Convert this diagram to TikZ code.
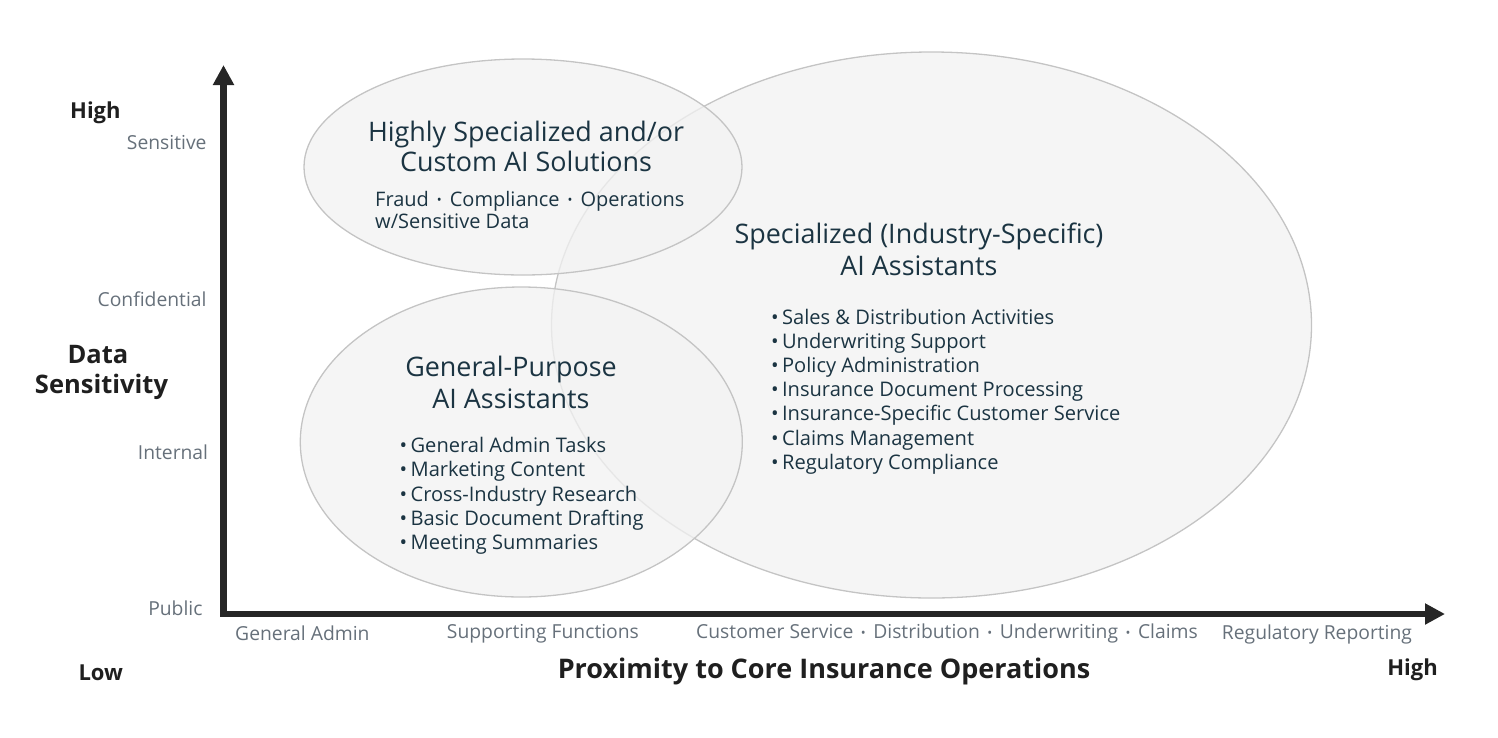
\documentclass[tikz,border=0pt]{standalone}
\usepackage{fontspec}
\setmainfont{Open Sans}
\usetikzlibrary{arrows.meta}
\definecolor{navy}{HTML}{1B3442}
\definecolor{lab}{HTML}{66707A}
\definecolor{axisc}{HTML}{262626}
\definecolor{ellfill}{HTML}{F2F2F2}
\definecolor{elledge}{HTML}{C4C4C4}
\newcommand{\sepdot}[1]{\hspace{#1}{\fontsize{13}{13}\selectfont\raisebox{1.5pt}{•}}\hspace{#1}}
\begin{document}
\begin{tikzpicture}[x=1pt,y=-1pt,
  ell/.style={draw=elledge, line width=1.3pt, fill=ellfill, fill opacity=0.75},
  ttl/.style={text=navy, font=\fontsize{26.9}{31.5}\selectfont, anchor=base, inner sep=0pt},
  lst/.style={text=navy, font=\fontsize{20.1}{24.2}\selectfont, anchor=base west, inner sep=0pt},
  sub/.style={text=navy, font=\fontsize{20}{22.5}\selectfont, anchor=base west, inner sep=0pt},
  ylab/.style={text=lab, font=\fontsize{19.3}{22}\selectfont, anchor=base east, inner sep=0pt},
  xlab/.style={text=lab, font=\fontsize{19.3}{22}\selectfont, anchor=base west, inner sep=0pt},
  endlab/.style={text=black!88, font=\bfseries\fontsize{22}{26}\selectfont, inner sep=0pt},
  axlab/.style={text=black!88, font=\bfseries\fontsize{25.5}{30}\selectfont, anchor=base, inner sep=0pt},
  axisline/.style={line width=6.5pt, draw=axisc, line join=miter}
]
\useasboundingbox (0,0) rectangle (1498,737);

% ellipses
\path[ell] (931.5,325) ellipse [x radius=380, y radius=273];
\path[ell] (523,167) ellipse [x radius=219, y radius=108];
\path[ell] (521.3,442) ellipse [x radius=221, y radius=155];

% axes
\coordinate (O) at (223.5,614);
\coordinate (ytip) at (223.5,65);
\coordinate (xtip) at (1445,614);
\draw[axisline, {Triangle[length=20pt,width=20pt]}-{Triangle[length=20pt,width=20pt]}] (ytip) -- (O) -- (xtip);

% top ellipse texts
\node[ttl] (hs1) at (526,141) {Highly Specialized and/or};
\node[ttl] (hs2) at (526,171.7) {Custom AI Solutions};
\node[sub] (hs3) at (375,206) {Fraud\sepdot{8pt}Compliance\sepdot{8pt}Operations};
\node[sub] (hs4) at (375,228.3) {w/Sensitive Data};

% big ellipse texts
\node[ttl] (sp1) at (919,243.3) {Specialized (Industry-Specific)};
\node[ttl] (sp2) at (919,275) {AI Assistants};
\node[lst] (sl1) at (771,324.0) {•\,Sales \& Distribution Activities};
\node[lst] (sl2) at (771,348.2) {•\,Underwriting Support};
\node[lst] (sl3) at (771,372.4) {•\,Policy Administration};
\node[lst] (sl4) at (771,396.6) {•\,Insurance Document Processing};
\node[lst] (sl5) at (771,420.8) {•\,Insurance-Specific Customer Service};
\node[lst] (sl6) at (771,445.0) {•\,Claims Management};
\node[lst] (sl7) at (771,469.2) {•\,Regulatory Compliance};

% bottom-left ellipse texts
\node[ttl] (gp1) at (511,376.7) {General-Purpose};
\node[ttl] (gp2) at (511,408.3) {AI Assistants};
\node[lst] (gl1) at (399.5,452.7) {•\,General Admin Tasks};
\node[lst] (gl2) at (399.5,476.9) {•\,Marketing Content};
\node[lst] (gl3) at (399.5,501.1) {•\,Cross-Industry Research};
\node[lst] (gl4) at (399.5,525.3) {•\,Basic Document Drafting};
\node[lst] (gl5) at (399.5,549.5) {•\,Meeting Summaries};

% y-axis labels
\node[ylab] (ysen) at (206.7,149.3) {Sensitive};
\node[ylab] (ycon) at (206.7,306) {Confidential};
\node[ylab] (yint) at (208.3,459) {Internal};
\node[ylab] (ypub) at (202.7,615) {Public};
\node[endlab, anchor=base west] (yhigh) at (70,118.3) {High};
\node[axlab] (yt1) at (98,363.3) {Data};
\node[axlab] (yt2) at (101.5,393.3) {Sensitivity};
\node[endlab, anchor=base west] (xlow) at (78.3,680) {Low};

% x-axis labels
\node[xlab] (xga) at (235,640) {General Admin};
\node[xlab] (xsf) at (446.7,638.5) {Supporting Functions};
\node[xlab] (xcs) at (696,638.5) {Customer Service\sepdot{7.5pt}Distribution\sepdot{7.5pt}Underwriting\sepdot{7.5pt}Claims};
\node[xlab] (xrr) at (1221.7,639) {Regulatory Reporting};
\node[axlab, font=\bfseries\fontsize{27}{30}\selectfont] (xtitle) at (824,678) {Proximity to Core Insurance Operations};
\node[endlab, anchor=base east] (xhigh) at (1438,675) {High};
\end{tikzpicture}
\end{document}
